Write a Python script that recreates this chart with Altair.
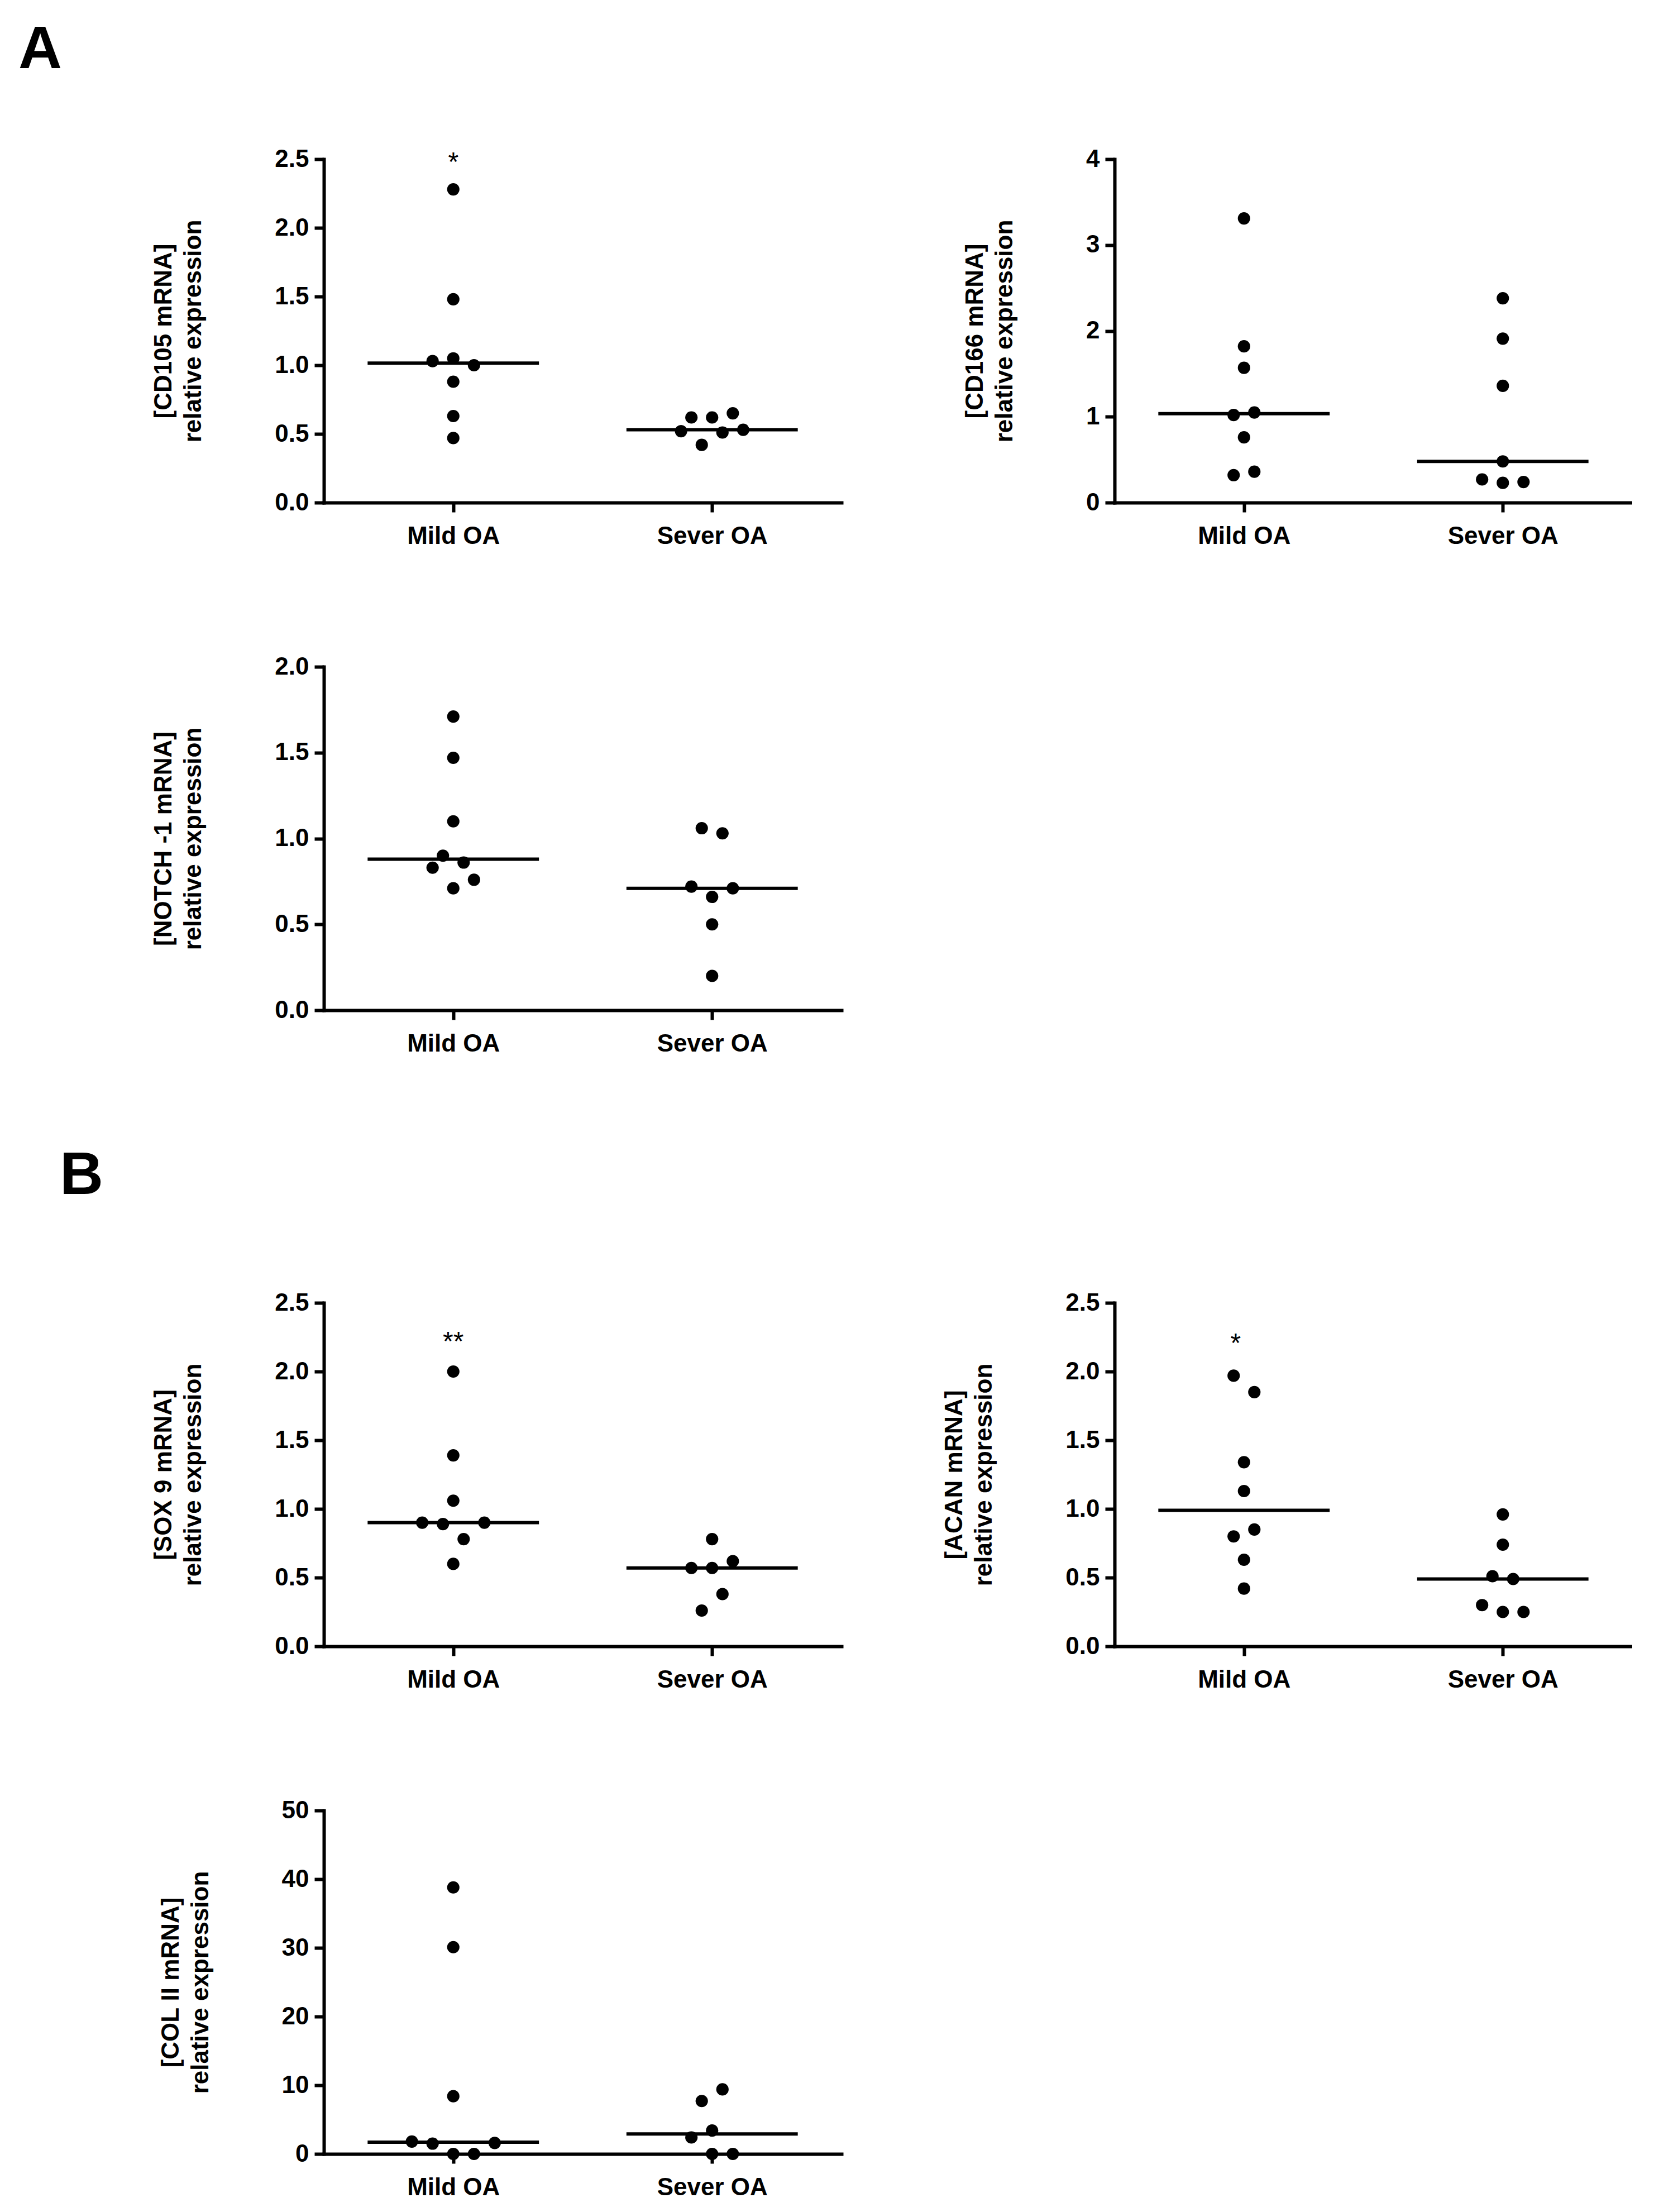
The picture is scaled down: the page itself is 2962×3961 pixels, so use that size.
import altair as alt
import pandas as pd

FONT = "Liberation Sans, Arial, Helvetica, sans-serif"
GROUPS = ["Mild OA", "Sever OA"]

# ---- data (values; slot = horizontal dot-stacking slot) ----
cd105_mild = [2.28, 1.48, 1.05, 1.03, 1.00, 0.88, 0.63, 0.47]
cd105_mild_slot = [0, 0, 0, -2, 2, 0, 0, 0]
cd105_sever = [0.62, 0.62, 0.65, 0.52, 0.51, 0.53, 0.42]
cd105_sever_slot = [-2, 0, 2, -3, 1, 3, -1]

cd166_mild = [3.31, 1.82, 1.57, 1.02, 1.05, 0.76, 0.32, 0.36]
cd166_mild_slot = [0, 0, 0, -1, 1, 0, -1, 1]
cd166_sever = [2.38, 1.91, 1.36, 0.48, 0.27, 0.23, 0.24]
cd166_sever_slot = [0, 0, 0, 0, -2, 0, 2]

notch_mild = [1.71, 1.47, 1.10, 0.90, 0.83, 0.86, 0.76, 0.71]
notch_mild_slot = [0, 0, 0, -1, -2, 1, 2, 0]
notch_sever = [1.06, 1.03, 0.72, 0.71, 0.66, 0.50, 0.20]
notch_sever_slot = [-1, 1, -2, 2, 0, 0, 0]

sox9_mild = [2.00, 1.39, 1.06, 0.90, 0.89, 0.90, 0.78, 0.60]
sox9_mild_slot = [0, 0, 0, -3, -1, 3, 1, 0]
sox9_sever = [0.78, 0.62, 0.57, 0.57, 0.38, 0.26]
sox9_sever_slot = [0, 2, -2, 0, 1, -1]

acan_mild = [1.97, 1.85, 1.34, 1.13, 0.85, 0.80, 0.63, 0.42]
acan_mild_slot = [-1, 1, 0, 0, 1, -1, 0, 0]
acan_sever = [0.96, 0.74, 0.51, 0.49, 0.30, 0.25, 0.25]
acan_sever_slot = [0, 0, -1, 1, -2, 0, 2]

col2_mild = [38.8, 30.1, 8.4, 1.8, 1.5, 1.6, 0.0, 0.0]
col2_mild_slot = [0, 0, 0, -4, -2, 4, 0, 2]
col2_sever = [9.4, 7.7, 3.4, 2.4, 0.0, 0.0]
col2_sever_slot = [1, -1, 0, -2, 0, 2]

ticks_25 = [0, 0.5, 1.0, 1.5, 2.0, 2.5]
ticks_4 = [0, 1, 2, 3, 4]
ticks_20 = [0, 0.5, 1.0, 1.5, 2.0]
ticks_50 = [0, 10, 20, 30, 40, 50]

PW, PH = 927, 615


def make_panel(title_lines, mild, mild_slot, sever, sever_slot, ymax, ticks, fmt,
               star=None, star_y=None, star_dx=0, letter=None, letter_xy=None):
    rows = []
    for i, (vals, slots) in enumerate([(mild, mild_slot), (sever, sever_slot)]):
        for v, s in zip(vals, slots):
            rows.append({"idx": i, "value": v, "slot": s})
    df = pd.DataFrame(rows)
    xscale = alt.Scale(domain=[-0.5, 1.5], nice=False, zero=False)
    yscale = alt.Scale(domain=[0, ymax], nice=False)
    label_expr = "datum.value == 0 ? '%s' : '%s'" % (GROUPS[0], GROUPS[1])
    xaxis = alt.Axis(values=[0, 1], labelExpr=label_expr, title=None, grid=False)
    yaxis = alt.Axis(values=ticks, format=fmt, title=title_lines, grid=False)

    base = alt.Chart(df)
    med = base.transform_aggregate(
        med="median(value)", groupby=["idx"]
    ).transform_calculate(
        x1="datum.idx - 0.331", x2="datum.idx + 0.331"
    ).mark_rule(strokeWidth=6, color="black", strokeCap="butt").encode(
        x=alt.X("x1:Q", scale=xscale, axis=xaxis),
        x2="x2:Q",
        y=alt.Y("med:Q", scale=yscale, axis=yaxis),
    )
    pts = base.transform_calculate(
        xp="datum.idx + datum.slot * 0.04"
    ).mark_circle(size=490, color="black", opacity=1).encode(
        x=alt.X("xp:Q", scale=xscale, axis=xaxis),
        y=alt.Y("value:Q", scale=yscale, axis=yaxis),
    )
    layers = [med, pts]
    if star is not None:
        sdf = pd.DataFrame({"idx": [0], "y": [star_y], "t": [star]})
        layers.append(
            alt.Chart(sdf).mark_text(
                font=FONT, fontSize=48, baseline="alphabetic", align="center",
                dy=26, dx=star_dx, color="black"
            ).encode(
                x=alt.X("idx:Q", scale=xscale, axis=xaxis),
                y=alt.Y("y:Q", scale=yscale, axis=yaxis),
                text="t:N",
            )
        )
    if letter is not None:
        ldf = pd.DataFrame({"t": [letter]})
        layers.append(
            alt.Chart(ldf).mark_text(
                font=FONT, fontSize=108, fontWeight="bold", align="center",
                baseline="alphabetic", color="black"
            ).encode(
                x=alt.value(letter_xy[0]), y=alt.value(letter_xy[1]), text="t:N"
            )
        )
    return alt.layer(*layers).properties(width=PW, height=PH)


def spacer(h):
    return alt.Chart(pd.DataFrame({"a": [0]})).mark_point(opacity=0).encode(
        x=alt.value(0), y=alt.value(0)
    ).properties(width=PW, height=h)


a1 = make_panel(["[CD105 mRNA]", "relative expression"], cd105_mild, cd105_mild_slot,
                cd105_sever, cd105_sever_slot, 2.5, ticks_25, ".1f",
                star="*", star_y=2.52, letter="A", letter_xy=(-508, -163))
a2 = make_panel(["[CD166 mRNA]", "relative expression"], cd166_mild, cd166_mild_slot,
                cd166_sever, cd166_sever_slot, 4, ticks_4, "d")
a3 = make_panel(["[NOTCH -1 mRNA]", "relative expression"], notch_mild, notch_mild_slot,
                notch_sever, notch_sever_slot, 2.0, ticks_20, ".1f")
b1 = make_panel(["[SOX 9 mRNA]", "relative expression"], sox9_mild, sox9_mild_slot,
                sox9_sever, sox9_sever_slot, 2.5, ticks_25, ".1f",
                star="**", star_y=2.26, letter="B", letter_xy=(-434, -195))
b2 = make_panel(["[ACAN mRNA]", "relative expression"], acan_mild, acan_mild_slot,
                acan_sever, acan_sever_slot, 2.5, ticks_25, ".1f",
                star="*", star_y=2.25, star_dx=-15)
b3 = make_panel(["[COL II mRNA]", "relative expression"], col2_mild, col2_mild_slot,
                col2_sever, col2_sever_slot, 50, ticks_50, "d")

chart = alt.concat(
    a1, a2, a3, spacer(PH + 230), b1, b2, b3,
    columns=2, align="each", bounds="flush",
    spacing={"row": 294, "column": 489},
).properties(
    padding={"left": 25, "top": 28, "right": 0, "bottom": 0}
).configure_view(strokeWidth=0).configure_axis(
    domainColor="black", domainWidth=6, domainCap="square",
    tickColor="black", tickWidth=6, tickSize=17,
    labelFont=FONT, labelFontSize=44, labelFontWeight="bold", labelColor="black",
    titleFont=FONT, titleFontSize=44, titleFontWeight="bold", titleColor="black",
    labelOverlap=False, labelFlush=False, labelLimit=600,
).configure_axisY(
    labelPadding=10, titlePadding=123, titleLineHeight=53,
).configure_axisX(
    labelPadding=21,
)

chart.save("out.html", embed_options={"renderer": "svg", "actions": False})
